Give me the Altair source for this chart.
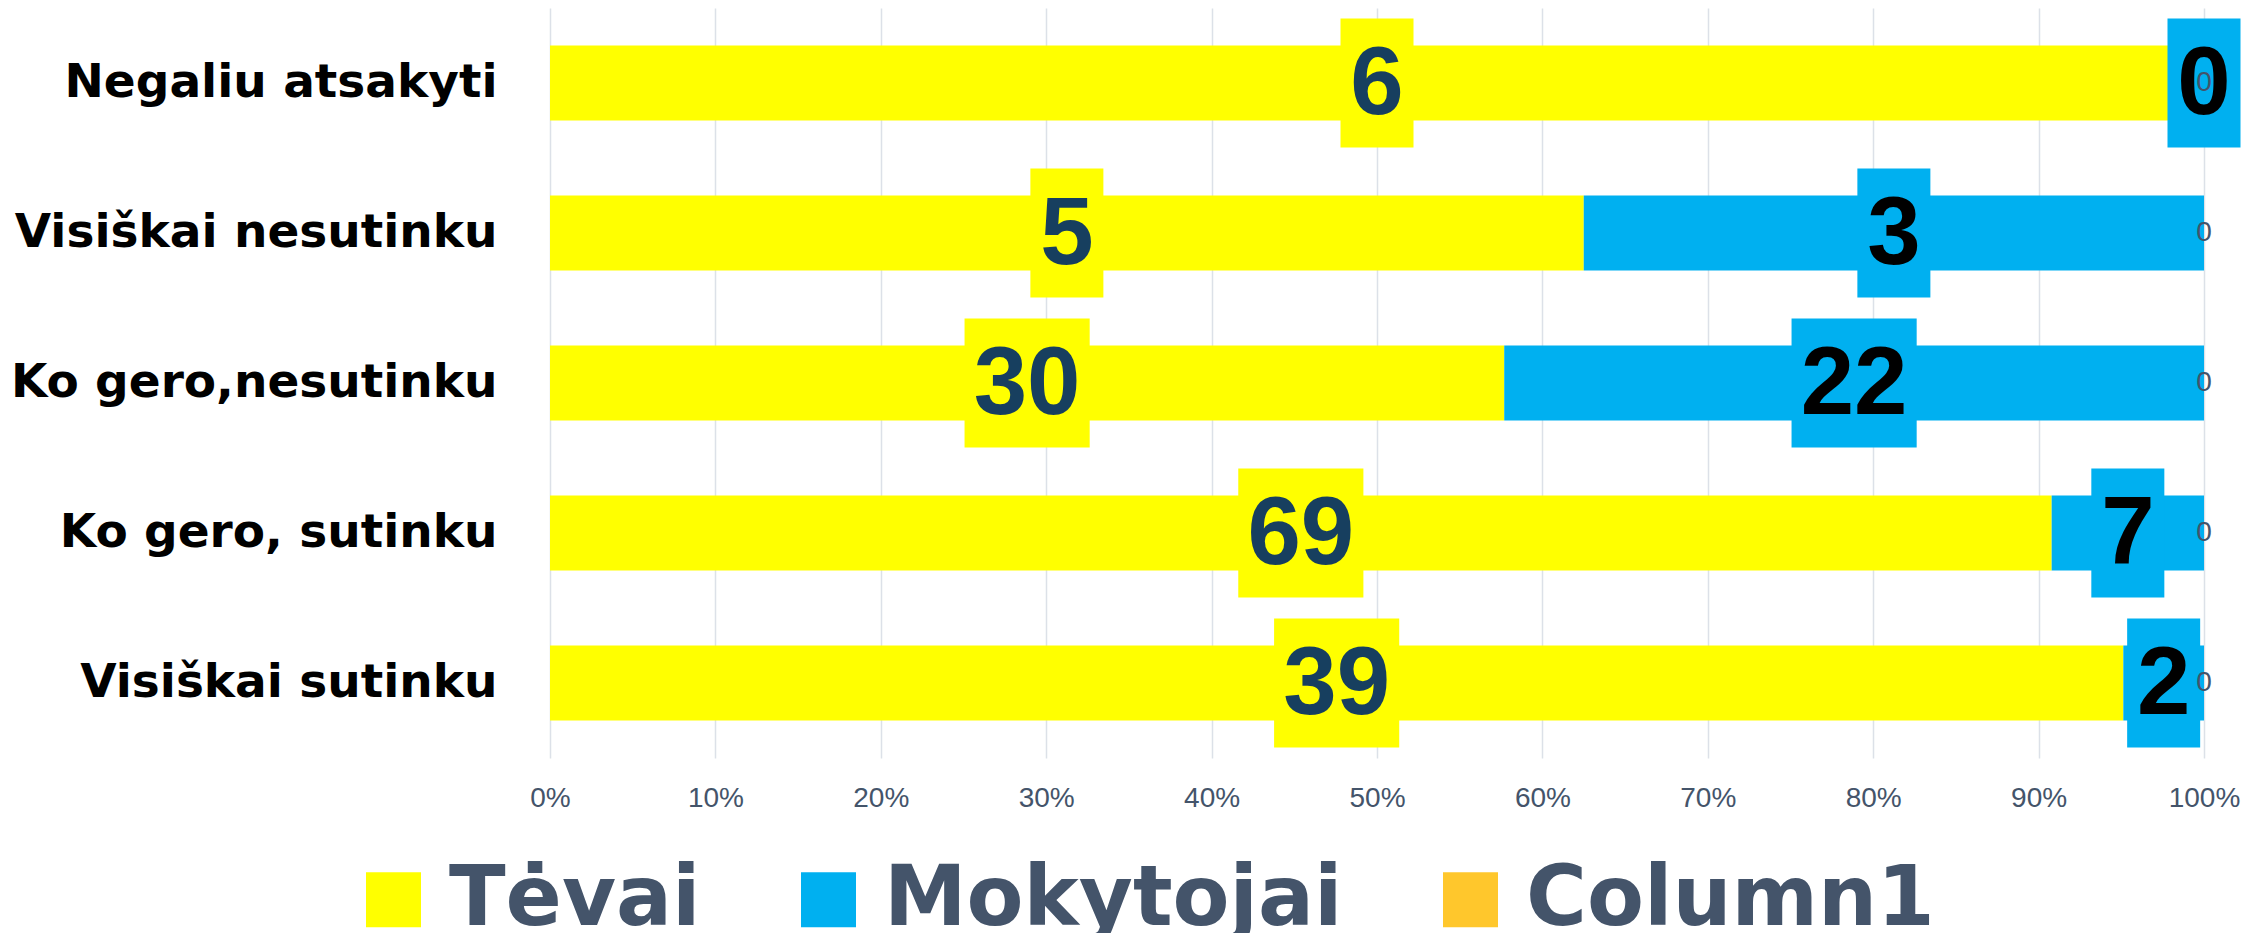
import altair as alt
import pandas as pd

categories = ["Negaliu atsakyti", "Visiškai nesutinku", "Ko gero,nesutinku", "Ko gero, sutinku", "Visiškai sutinku"]
series = ["Tėvai", "Mokytojai", "Column1"]
tevai = [6, 5, 30, 69, 39]
mokytojai = [0, 3, 22, 7, 2]
column1 = [0, 0, 0, 0, 0]
colors = ["#FFFF00", "#00B0F0", "#FFC72C"]
x_ticks = [0, 0.1, 0.2, 0.3, 0.4, 0.5, 0.6, 0.7, 0.8, 0.9, 1.0]

rows = []
for i, c in enumerate(categories):
    for k, (s, vals) in enumerate(zip(series, [tevai, mokytojai, column1])):
        rows.append({"category": c, "series": s, "order": k, "value": vals[i]})
df = pd.DataFrame(rows)

base = alt.Chart(df).transform_joinaggregate(
    total="sum(value)", groupby=["category"]
).transform_window(
    cum="sum(value)", sort=[alt.SortField("order")], groupby=["category"], frame=[None, 0]
).transform_calculate(
    start="(datum.cum - datum.value) / datum.total",
    end="datum.cum / datum.total",
    mid="(datum.cum - datum.value / 2) / datum.total",
    digits="length(toString(datum.value)) > 1 ? 'two' : 'one'",
)

y_enc = alt.Y("category:N", sort=categories, title=None,
              scale=alt.Scale(paddingInner=0.5, paddingOuter=0.25),
              axis=alt.Axis(ticks=False, tickSize=0, domain=False, grid=False,
                            labelFont="DejaVu Sans", labelFontSize=47,
                            labelFontWeight="bold", labelColor="#000000",
                            labelPadding=53, labelLimit=0))

bars = base.mark_bar().encode(
    x=alt.X("start:Q", title=None, scale=alt.Scale(domain=[0, 1], nice=False),
            axis=alt.Axis(values=x_ticks, format=".0%", ticks=False, tickSize=0,
                          domain=False, grid=True, gridColor="#DCE1E8", gridWidth=1.5,
                          labelFlush=False,
                          labelFont="Liberation Sans", labelFontSize=28,
                          labelColor="#44546A", labelPadding=26)),
    x2="end:Q",
    y=y_enc,
    color=alt.Color("series:N", title=None,
                    scale=alt.Scale(domain=series, range=colors),
                    legend=alt.Legend(orient="none", legendX=-198, legendY=850,
                                      direction="horizontal", symbolType="square",
                                      symbolSize=3025, symbolStrokeWidth=0,
                                      symbolOpacity=1, labelFontSize=83,
                                      labelFont="DejaVu Sans", labelFontWeight="bold",
                                      labelColor="#44546A", labelOffset=14,
                                      columnPadding=86, labelLimit=0)),
)

labeled = base.transform_filter(alt.datum.series != "Column1")

boxes = labeled.mark_point(filled=True, opacity=1, strokeWidth=0).encode(
    x=alt.X("mid:Q"),
    y=alt.Y("category:N", sort=categories),
    shape=alt.Shape("digits:N", legend=None,
                    scale=alt.Scale(domain=["one", "two"],
                                    range=["M-0.566,-1L0.566,-1L0.566,1L-0.566,1Z",
                                           "M-0.97,-1L0.97,-1L0.97,1L-0.97,1Z"])),
    size=alt.value(16641),
    fill=alt.condition(alt.datum.series == "Tėvai", alt.value("#FFFF00"), alt.value("#00B0F0")),
)

texts = labeled.mark_text(font="Liberation Sans", fontSize=96, fontWeight="bold",
                          align="center", baseline="middle", dy=2).encode(
    x=alt.X("mid:Q"),
    y=alt.Y("category:N", sort=categories),
    text=alt.Text("value:Q"),
    color=alt.condition(alt.datum.series == "Tėvai", alt.value("#173F5F"), alt.value("#000000")),
)

small = base.transform_filter(alt.datum.series == "Column1").mark_text(
    font="Liberation Sans", fontSize=28, color="#44546A", align="center", baseline="middle"
).encode(
    x=alt.X("mid:Q"),
    y=alt.Y("category:N", sort=categories),
    text=alt.Text("value:Q"),
)

chart = alt.layer(bars, boxes, texts, small).properties(
    width=1654, height=750,
    autosize=alt.AutoSizeParams(type="none"),
    padding={"left": 542, "top": 0, "right": 44, "bottom": 175},
).configure_view(stroke=None)

chart.save("out.html", embed_options={"renderer": "svg", "actions": False})
